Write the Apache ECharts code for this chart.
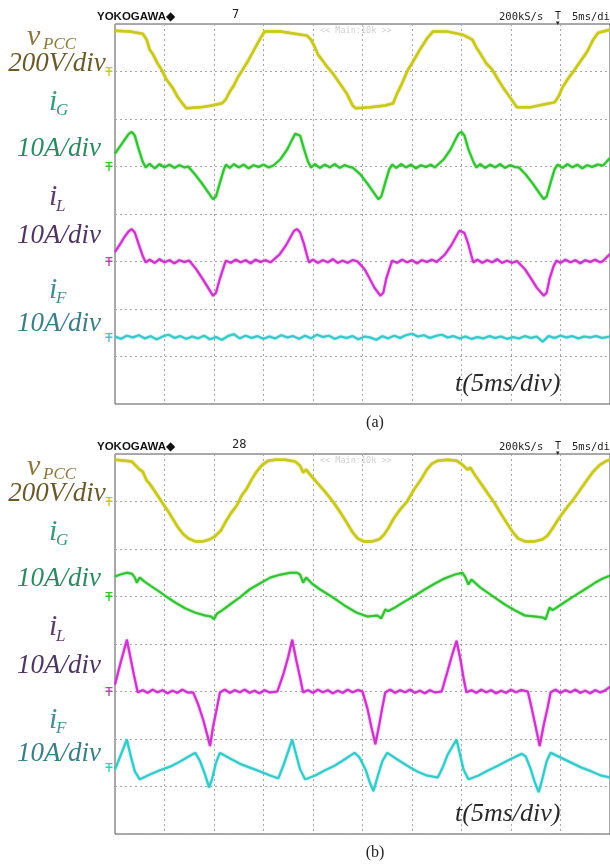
<!DOCTYPE html>
<html>
<head>
<meta charset="utf-8">
<title>scope</title>
<script src="https://cdn.jsdelivr.net/npm/echarts/dist/echarts.min.js"></script>
<style>
  body { margin: 0; padding: 0; background: #fff; }
  #main { width: 610px; height: 867px; }
</style>
</head>
<body>
<div id="main"></div>
<script>
// time base: 10 div x 5 ms
var TIME_MAX = 50;
var TIME_STEP = 5;
var DIVS = 8;

// ---- panel (a) : [ms, value] ----
var vpccA = [[0,172],[1.5,168],[2.8,159],[3.2,134],[3.5,92],[3.8,75],[4.3,34],[4.7,8],[5.2,-34],[5.8,-67],
  [6.3,-105],[6.8,-134],[7.2,-155],[8.6,-151],[9.8,-143],[10.8,-134],[11.2,-117],[11.6,-84],[12.0,-59],[12.4,-25],
  [12.9,8],[13.4,42],[13.9,80],[14.5,126],[15.1,168],[16.7,168],[18.2,159],[19.4,151],[19.8,134],[20.2,101],
  [20.5,71],[20.9,50],[21.4,21],[22.0,-8],[22.7,-50],[23.4,-92],[24.0,-143],[24.3,-155],[25.8,-151],[27.3,-143],
  [28.1,-134],[28.5,-92],[29.0,-50],[29.5,0],[30.1,42],[30.8,92],[31.5,138],[32.1,168],[33.6,168],[35.1,155],
  [36.1,134],[36.5,101],[36.9,75],[37.5,34],[38.1,8],[38.7,-34],[39.2,-67],[39.9,-109],[40.6,-151],[41.9,-151],
  [43.4,-138],[44.4,-130],[44.8,-105],[45.2,-67],[45.7,-34],[46.3,0],[47.0,42],[47.7,84],[48.3,134],[48.8,163],[50,176]];

var igA = [[0,2.7],[0.5,4.2],[1.0,5.7],[1.4,6.9],[1.7,7.3],[2.0,6.5],[2.4,3.6],[2.8,1.0],[3.1,-0.2],
  [3.5,0.6],[4.0,-0.4],[4.5,0.5],[5.0,-0.2],[5.5,0.4],[6.0,-0.3],[6.5,0.3],[7.0,-0.2],[7.4,0],
  [8.1,-1.7],[8.8,-3.6],[9.4,-5.4],[9.9,-6.9],[10.2,-6.3],[10.6,-3.4],[11.0,-0.6],[11.2,0.4],
  [11.6,-0.3],[12.0,0.5],[12.5,-0.2],[13.0,0.4],[13.5,-0.4],[14.0,0.3],[14.5,-0.1],[15.0,0.4],[15.5,-0.2],[16.0,0.2],
  [16.7,1.5],[17.4,3.6],[17.9,5.7],[18.2,6.9],[18.4,7.3],[18.7,6.5],[19.1,3.6],[19.5,1.0],[19.8,-0.2],
  [20.2,0.5],[20.7,-0.3],[21.2,0.4],[21.7,-0.2],[22.2,0.5],[22.7,-0.3],[23.2,0.3],[23.7,-0.1],[24.0,-0.2],
  [24.8,-1.7],[25.5,-3.6],[26.1,-5.4],[26.6,-6.9],[26.9,-6.3],[27.3,-3.4],[27.7,-0.6],[28.0,0.4],
  [28.4,-0.3],[28.9,0.5],[29.4,-0.2],[29.9,0.4],[30.4,-0.4],[30.9,0.3],[31.4,-0.1],[31.9,0.4],[32.3,-0.2],[32.5,0.2],
  [33.2,1.5],[33.9,3.6],[34.4,5.7],[34.7,6.9],[35.0,7.3],[35.3,6.5],[35.7,3.6],[36.2,1.0],[36.5,-0.2],
  [36.9,0.5],[37.4,-0.3],[37.9,0.4],[38.4,-0.2],[38.9,0.5],[39.4,-0.3],[39.9,0.3],[40.4,-0.1],[40.8,-0.2],
  [41.5,-1.7],[42.2,-3.6],[42.8,-5.4],[43.3,-6.9],[43.6,-6.3],[44.0,-3.4],[44.4,-0.6],[44.7,0.4],
  [45.2,-0.3],[45.7,0.5],[46.2,-0.2],[46.7,0.4],[47.2,-0.4],[47.7,0.3],[48.2,-0.1],[48.7,0.4],[49.3,0.2],[50,1.8]];

var ilA = [[0,2.0],[0.5,3.6],[1.0,5.3],[1.4,6.4],[1.7,6.8],[2.0,6.1],[2.4,3.6],[2.8,1.2],[3.1,-0.2],
  [3.5,0.4],[4.0,-0.3],[4.5,0.5],[5.0,-0.2],[5.5,0.3],[6.0,-0.4],[6.5,0.3],[7.0,-0.1],[7.5,0.2],
  [7.6,0],[8.2,-1.6],[8.8,-3.5],[9.4,-5.5],[9.9,-7.2],[10.2,-6.6],[10.6,-3.6],[11.0,-1.0],[11.2,0.2],
  [11.7,-0.3],[12.2,0.4],[12.7,-0.2],[13.2,0.3],[13.7,-0.4],[14.2,0.4],[14.7,-0.1],[15.2,0.3],[15.7,-0.2],
  [15.9,0.1],[16.6,1.4],[17.3,3.5],[17.8,5.4],[18.1,6.5],[18.4,6.8],[18.7,6.1],[19.1,3.6],[19.4,1.2],[19.6,-0.2],
  [20.0,0.4],[20.5,-0.3],[21.0,0.3],[21.5,-0.2],[22.0,0.5],[22.5,-0.3],[23.0,0.2],[23.5,-0.3],[24.0,0.3],[24.5,0],
  [24.6,-0.2],[25.2,-1.6],[25.7,-3.5],[26.2,-5.5],[26.8,-7.2],[27.1,-6.6],[27.4,-3.6],[27.8,-1.0],[28.0,0.2],
  [28.5,-0.3],[29.0,0.4],[29.5,-0.2],[30.0,0.3],[30.5,-0.4],[31.0,0.3],[31.5,-0.1],[32.0,0.4],[32.5,-0.1],
  [32.6,0.1],[33.3,1.4],[34.0,3.5],[34.5,5.4],[34.8,6.5],[35.0,6.6],[35.3,6.0],[35.7,3.6],[36.0,1.2],[36.2,-0.2],
  [36.6,0.4],[37.1,-0.3],[37.6,0.3],[38.1,-0.2],[38.6,0.5],[39.1,-0.3],[39.6,0.2],[40.1,-0.3],[40.6,0.1],
  [40.7,-0.2],[41.4,-1.6],[42.0,-3.5],[42.6,-5.5],[43.3,-7.2],[43.6,-6.6],[43.9,-3.6],[44.3,-1.0],[44.6,0.2],
  [45.0,-0.3],[45.5,0.4],[46.0,-0.2],[46.5,0.3],[47.0,-0.4],[47.5,0.3],[48.0,-0.1],[48.5,0.4],[49.0,-0.2],[49.3,0.1],[50,1.6]];

var ifA = [[0,0.2],[0.6,-0.3],[1.2,0.4],[1.8,0],[2.4,0.5],[3,-0.2],[3.6,0.3],[4.2,-0.4],[4.8,0.2],[5.4,0.6],
  [6,-0.1],[6.6,0.3],[7.2,-0.3],[7.8,0.2],[8.4,-0.2],[9,0.4],[9.6,-0.4],[10.2,0.1],[10.8,-0.5],[11.4,0.3],
  [12,0.7],[12.6,-0.2],[13.2,0.4],[13.8,-0.1],[14.4,0.3],[15,-0.3],[15.6,0.2],[16.2,-0.2],[16.8,0.5],[17.4,0],
  [18,0.3],[18.6,-0.3],[19.2,0.4],[19.8,-0.2],[20.4,0.6],[21,0.1],[21.6,0.4],[22.2,-0.3],[22.8,0.2],[23.4,-0.1],
  [24,0.3],[24.6,-0.4],[25.2,0.2],[25.8,0],[26.4,-0.5],[27,0.3],[27.6,-0.2],[28.2,0.4],[28.8,-0.1],[29.4,0.5],
  [30,0.8],[30.6,0.2],[31.2,0.5],[31.8,-0.1],[32.4,0.3],[33,0.6],[33.6,0],[34.2,0.3],[34.8,-0.2],[35.4,0.2],
  [36,-0.3],[36.6,0.1],[37.2,-0.2],[37.8,0.3],[38.4,-0.1],[39,0.2],[39.6,-0.3],[40.2,0.1],[40.8,-0.2],[41.4,0.3],
  [42,-0.1],[42.6,0.2],[43.2,-0.9],[43.8,0.3],[44.4,-0.1],[45,0.4],[45.6,0],[46.2,0.3],[46.8,-0.2],[47.4,0.2],
  [48,0],[48.6,0.3],[49.2,-0.1],[50,0.2]];

// ---- panel (b) ----
var vpccB = [[0,176],[1.0,172],[1.7,168],[2.1,151],[2.5,134],[2.8,126],[3.2,88],[3.5,75],[4.1,38],[4.7,0],
  [5.5,-50],[6.3,-105],[6.9,-138],[7.4,-155],[8.1,-168],[8.9,-168],[9.6,-159],[10.1,-147],[10.4,-134],[10.7,-122],
  [11.2,-84],[11.7,-50],[12.3,-17],[12.8,25],[13.3,54],[13.8,92],[14.3,126],[14.9,155],[15.5,172],[16.2,176],
  [17.2,176],[18.2,168],[18.7,151],[19.0,122],[19.3,134],[19.8,109],[20.5,75],[21.2,42],[22.0,0],[22.7,-42],
  [23.4,-88],[24.0,-130],[24.5,-155],[25.1,-168],[26.0,-168],[26.7,-159],[27.2,-138],[27.6,-113],[28.1,-75],[28.8,-34],
  [29.5,0],[30.2,50],[30.9,92],[31.5,134],[32.0,159],[32.6,172],[33.6,176],[34.5,172],[35.1,155],[35.6,134],
  [35.9,143],[36.4,109],[37.1,67],[37.8,25],[38.3,-4],[38.9,-46],[39.6,-92],[40.2,-130],[40.7,-155],[41.4,-168],
  [42.4,-168],[43.2,-159],[43.7,-143],[44.2,-113],[44.7,-80],[45.2,-50],[45.8,-17],[46.3,8],[47.0,50],[47.7,92],
  [48.3,126],[49.0,155],[49.5,168],[50,176]];

var igB = [[0,4.2],[0.5,4.6],[1.2,5.0],[1.7,4.8],[2.0,4.0],[2.2,2.9],[2.5,4.0],[3.0,3.1],[3.7,2.1],[4.5,1.0],
  [5.3,-0.2],[6.1,-1.3],[7.1,-2.5],[8.1,-3.4],[9.1,-4.0],[9.7,-4.2],[10.0,-4.8],[10.3,-3.6],[10.7,-3.1],[11.6,-1.7],
  [12.6,-0.2],[13.6,1.5],[14.6,2.7],[15.7,4.0],[16.7,4.6],[17.7,5.0],[18.4,5.0],[18.7,4.6],[19.0,2.9],[19.3,4.0],
  [19.9,2.7],[20.7,1.5],[22.0,-0.2],[23.2,-1.9],[24.4,-3.4],[25.5,-4.2],[26.5,-4.0],[26.9,-4.6],[27.3,-2.7],[27.6,-3.1],
  [28.3,-2.3],[29.3,-1.0],[30.3,0.2],[31.3,1.5],[32.3,2.7],[33.3,3.8],[34.3,4.6],[35.1,5.0],[35.4,4.0],[35.7,2.5],
  [36.0,3.6],[36.9,1.9],[38.2,0],[39.4,-1.7],[40.4,-2.9],[41.4,-4.0],[42.4,-4.2],[43.2,-4.4],[43.5,-4.8],[43.9,-2.3],
  [44.2,-2.9],[45.2,-1.5],[46.3,0],[47.3,1.3],[48.5,2.9],[49.3,3.8],[50,4.4]];

var ilB = [[0,1.5],[0.6,6.3],[1.2,10.9],[1.5,7.8],[1.9,3.6],[2.3,-0.2],
  [2.8,0.3],[3.3,-0.3],[3.8,0.4],[4.3,-0.2],[4.8,0.3],[5.3,-0.4],[5.8,0.2],[6.3,-0.3],[6.8,0.4],[7.3,-0.2],[7.9,-0.2],
  [8.4,-2.7],[8.9,-5.9],[9.3,-9.0],[9.6,-11.5],[9.9,-7.5],[10.3,-3.4],[10.6,-0.2],
  [11.1,0.4],[11.6,-0.3],[12.1,0.3],[12.6,-0.2],[13.1,0.4],[13.6,-0.3],[14.1,0.2],[14.6,-0.4],[15.1,0.3],[15.6,-0.2],[16.4,0],
  [17.0,3.6],[17.5,7.3],[17.9,10.9],[18.3,6.7],[18.7,2.9],[19.0,-0.2],
  [19.5,0.3],[20.0,-0.3],[20.5,0.4],[21.0,-0.2],[21.5,0.3],[22.0,-0.4],[22.5,0.2],[23.0,-0.3],[23.5,0.4],[24.0,-0.2],[24.5,0.3],[25.0,0],
  [25.5,-3.6],[25.9,-7.5],[26.3,-11.1],[26.7,-6.9],[27.0,-3.4],[27.3,-0.2],
  [27.8,0.4],[28.3,-0.3],[28.8,0.3],[29.3,-0.2],[29.8,0.4],[30.3,-0.3],[30.8,0.2],[31.3,-0.4],[31.8,0.3],[32.3,-0.2],[33.0,0],
  [33.5,3.6],[34.0,7.3],[34.5,10.7],[34.9,6.7],[35.2,2.9],[35.5,-0.2],
  [36.0,0.3],[36.5,-0.3],[37.0,0.4],[37.5,-0.2],[38.0,0.3],[38.5,-0.4],[39.0,0.2],[39.5,-0.3],[40.0,0.4],[40.5,-0.2],[41.0,0.3],[41.7,0],
  [42.1,-3.6],[42.5,-7.5],[42.9,-11.5],[43.3,-7.1],[43.7,-3.4],[44.0,-0.2],
  [44.5,0.4],[45.0,-0.3],[45.5,0.3],[46.0,-0.2],[46.5,0.4],[47.0,-0.3],[47.5,0.2],[48.0,-0.4],[48.5,0.3],[49.0,-0.2],[49.5,0.2],[50,1.0]];

var ifB = [[0,-0.4],[0.6,2.7],[1.2,5.9],[1.6,2.3],[2.0,-0.8],[2.5,-2.5],[3.5,-1.5],[4.5,-0.6],[5.6,0.2],[6.6,1.3],
  [7.6,2.5],[8.1,3.1],[8.6,1.3],[9.1,-1.5],[9.5,-4.2],[9.8,-2.5],[10.2,1.0],[10.6,3.1],[11.6,1.9],[12.6,0.8],
  [13.6,0],[14.6,-0.8],[15.7,-1.7],[16.5,-2.3],[17.0,0.4],[17.5,3.4],[17.9,5.9],[18.3,2.7],[18.7,-0.4],[19.2,-2.5],
  [20.2,-1.7],[21.2,-0.6],[22.2,0.4],[23.2,1.7],[24.2,3.1],[24.7,2.1],[25.3,-0.4],[25.7,-2.9],[26.1,-5.0],[26.5,-2.1],
  [27.0,1.3],[27.5,3.1],[28.5,1.7],[29.5,0.4],[30.5,-0.8],[31.5,-1.7],[32.6,-2.1],[33.1,0],[33.6,2.7],[34.5,5.9],
  [34.9,2.3],[35.2,-0.4],[35.7,-2.5],[36.7,-1.7],[37.7,-0.6],[38.7,0.4],[39.9,1.7],[41.1,2.9],[41.5,2.3],[42.0,-0.4],
  [42.4,-3.1],[42.8,-5.2],[43.2,-2.1],[43.6,1.3],[44.0,3.1],[45.0,2.1],[46.1,1.0],[47.1,0],[48.1,-0.8],[49.1,-1.7],[50,-2.1]];

// channel settings: units per div, zero level (div from top), trace colour, label colour
var CHANNELS = [
  { name: 'vPCC', perDiv: 200, zeroDiv: 1,   color: '#c8c81e', width: 2.5 },
  { name: 'iG',   perDiv: 10,  zeroDiv: 3,   color: '#33c233', width: 2 },
  { name: 'iL',   perDiv: 10,  zeroDiv: 5,   color: '#c936c9', width: 2 },
  { name: 'iF',   perDiv: 10,  zeroDiv: 6.6, color: '#35c9c9', width: 2 }
];

var PANELS = [
  { top: 24,  data: [vpccA, igA, ilA, ifA], count: '7',  caption: '(a)' },
  { top: 454, data: [vpccB, igB, ilB, ifB], count: '28', caption: '(b)' }
];

var GROUND = 'path://M0,0H8V1.5H4.8V4H8V5.5H4.8V10H3.2V5.5H0V4H3.2V1.5H0Z';
var gridLine = { show: true, lineStyle: { color: '#a6a6a6', type: [2, 3], width: 1 } };

var myChart = echarts.init(document.getElementById('main'));

var grids = [], xAxes = [], yAxes = [], series = [], graphics = [];

PANELS.forEach(function (p, pi) {
  grids.push({ left: 115, top: p.top, width: 496, height: 380, show: true,
    borderColor: '#555', borderWidth: 1, backgroundColor: '#fff' });
  xAxes.push({ gridIndex: pi, type: 'value', min: 0, max: TIME_MAX, interval: TIME_STEP,
    axisLine: { show: false }, axisTick: { show: false }, axisLabel: { show: false }, splitLine: gridLine });
  var base = yAxes.length;
  yAxes.push({ gridIndex: pi, type: 'value', min: 0, max: DIVS, interval: 1,
    axisLine: { show: false }, axisTick: { show: false }, axisLabel: { show: false }, splitLine: gridLine });
  CHANNELS.forEach(function (c, ci) {
    yAxes.push({ gridIndex: pi, type: 'value', show: false,
      max: c.zeroDiv * c.perDiv, min: -(DIVS - c.zeroDiv) * c.perDiv });
    series.push({
      type: 'line', xAxisIndex: pi, yAxisIndex: base + 1 + ci,
      data: p.data[ci], showSymbol: false, smooth: false, animation: false, z: 3 + ci,
      lineStyle: { color: c.color, width: c.width, shadowColor: c.color, shadowBlur: 2 },
      markPoint: {
        silent: true, symbol: GROUND, symbolSize: [7, 9], symbolOffset: [-6, 0],
        itemStyle: { color: c.color }, label: { show: false },
        data: [{ coord: [0, 0] }]
      }
    });
  });

  // scope header
  var t = p.top;
  graphics.push(
    { type: 'text', x: 97, y: t - 7, style: { text: 'YOKOGAWA', font: 'bold 11.5px "Liberation Sans"', fill: '#111', textVerticalAlign: 'middle' } },
    { type: 'text', x: 166, y: t - 7, style: { text: '◆', font: '12px "DejaVu Sans"', fill: '#111', textVerticalAlign: 'middle' } },
    { type: 'text', x: 232, y: t - 9, style: { text: p.count, font: '12px "DejaVu Sans Mono"', fill: '#222', textVerticalAlign: 'middle' } },
    { type: 'text', x: 499, y: t - 7, style: { text: '200kS/s', font: '10.5px "DejaVu Sans Mono"', fill: '#222', textVerticalAlign: 'middle' } },
    { type: 'text', x: 555, y: t - 8, style: { text: 'T', font: '10px "DejaVu Sans Mono"', fill: '#222', textVerticalAlign: 'middle' } },
    { type: 'text', x: 556, y: t - 1, style: { text: '▾', font: '7px "DejaVu Sans"', fill: '#222', textVerticalAlign: 'middle' } },
    { type: 'text', x: 572, y: t - 7, style: { text: '5ms/div', font: '10.5px "DejaVu Sans Mono"', fill: '#222', textVerticalAlign: 'middle' } },
    { type: 'text', x: 320, y: t + 7, z: 10, style: { text: '<< Main:10k >>', font: '8.5px "DejaVu Sans Mono"', fill: '#cfcfcf', textVerticalAlign: 'middle' } }
  );

  // channel labels
  var serif = '"Liberation Serif"';
  function lab(text, x, y, size, fill, align) {
    graphics.push({ type: 'text', x: x, y: t + y, z: 10,
      style: { text: text, font: 'italic ' + size + 'px ' + serif, fill: fill,
        textAlign: align || 'left', textVerticalAlign: 'middle' } });
  }
  lab('v', 27, 13, 30, '#8a7740');
  lab('PCC', 43, 21, 17, '#8a7740');
  lab('200V/div', 57, 40, 27, '#6a5a2b', 'center');
  lab('i', 49, 78, 30, '#3a9a78');
  lab('G', 56, 87, 17, '#3a9a78');
  lab('10A/div', 59, 125, 27, '#2c8a62', 'center');
  lab('i', 49, 173, 30, '#5e3d6e');
  lab('L', 56, 183, 17, '#5e3d6e');
  lab('10A/div', 59, 212, 27, '#4f3560', 'center');
  lab('i', 49, 266, 30, '#4a8c96');
  lab('F', 56, 275, 17, '#4a8c96');
  lab('10A/div', 59, 300, 27, '#3b7e88', 'center');
  lab('t(5ms/div)', 455, 360, 26, '#2a2a2a');

  graphics.push({ type: 'text', x: 375, y: t + 399, style: { text: p.caption,
    font: '16px "Liberation Serif"', fill: '#222', textAlign: 'center', textVerticalAlign: 'middle' } });
});

var option = {
  backgroundColor: '#fff',
  animation: false,
  grid: grids,
  xAxis: xAxes,
  yAxis: yAxes,
  series: series,
  graphic: graphics
};
myChart.setOption(option);
window.addEventListener('resize', function () {
  myChart.resize();
});
</script>
</body>
</html>
